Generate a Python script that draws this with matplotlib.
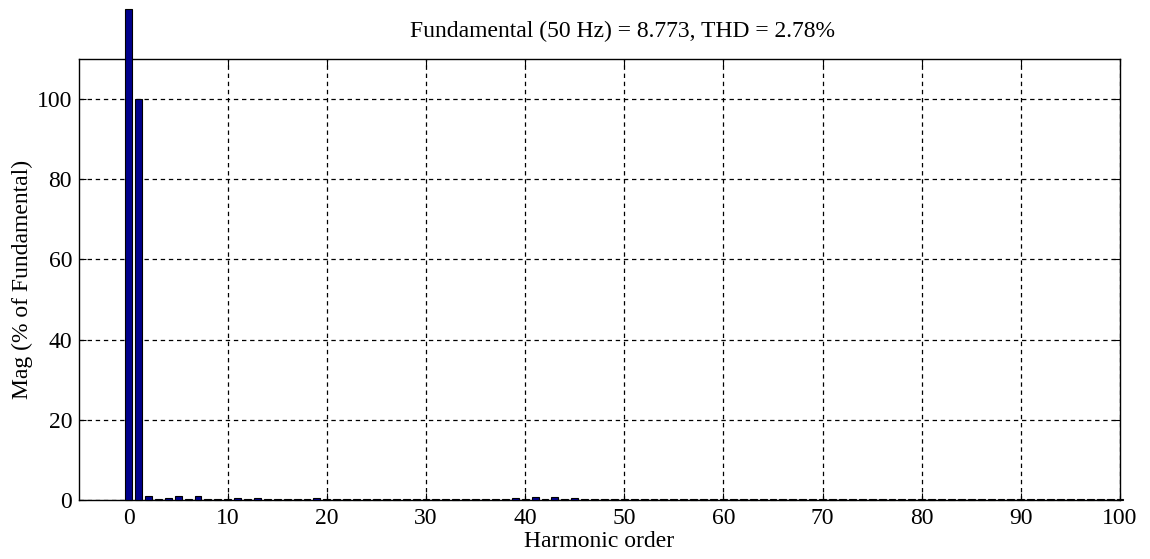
import matplotlib.pyplot as plt
import numpy as np

# harmonic spectrum (% of fundamental), orders 0..100
harmonics = np.arange(0, 101)
mag = [0.2] * 101
mag[0] = 122.5
mag[1] = 100.0
mag[2] = 0.9
mag[4] = 0.5
mag[5] = 1.1
mag[6] = 0.3
mag[7] = 1.1
mag[11] = 0.5
mag[13] = 0.5
mag[19] = 0.5
mag[37] = 0.3
mag[39] = 0.4
mag[41] = 0.8
mag[43] = 0.8
mag[45] = 0.5

title = 'Fundamental (50 Hz) = 8.773, THD = 2.78%'

plt.rcParams['font.family'] = ['Liberation Serif', 'DejaVu Serif']
plt.rcParams['font.size'] = 17

fig = plt.figure(figsize=(11.5, 5.59), dpi=100)
ax = fig.add_axes([79 / 1150, 59 / 559, (1120 - 79) / 1150, (500 - 59) / 559])

bars = ax.bar(harmonics, mag, width=0.7, color='#00008B', edgecolor='black', linewidth=0.8, zorder=3)
for b in bars:
    b.set_clip_on(False)

ax.set_xlim(-5, 100)
ax.set_ylim(0, 110)
ax.set_xticks(np.arange(0, 101, 10))
ax.set_yticks(np.arange(0, 101, 20))
ax.grid(True, color='black', linestyle=(0, (3.5, 3)), linewidth=0.9)
ax.tick_params(direction='in', top=True, right=True, length=5, pad=5)
ax.tick_params(axis='x', pad=6)
for s in ax.spines.values():
    s.set_linewidth(1.0)

ax.set_xlabel('Harmonic order', labelpad=1)
ax.set_ylabel('Mag (% of Fundamental)', labelpad=3)
fig.text(623 / 1150, 1 - 31 / 559, title, ha='center', va='center', fontsize=17)

fig.savefig('out.png', dpi=100)
